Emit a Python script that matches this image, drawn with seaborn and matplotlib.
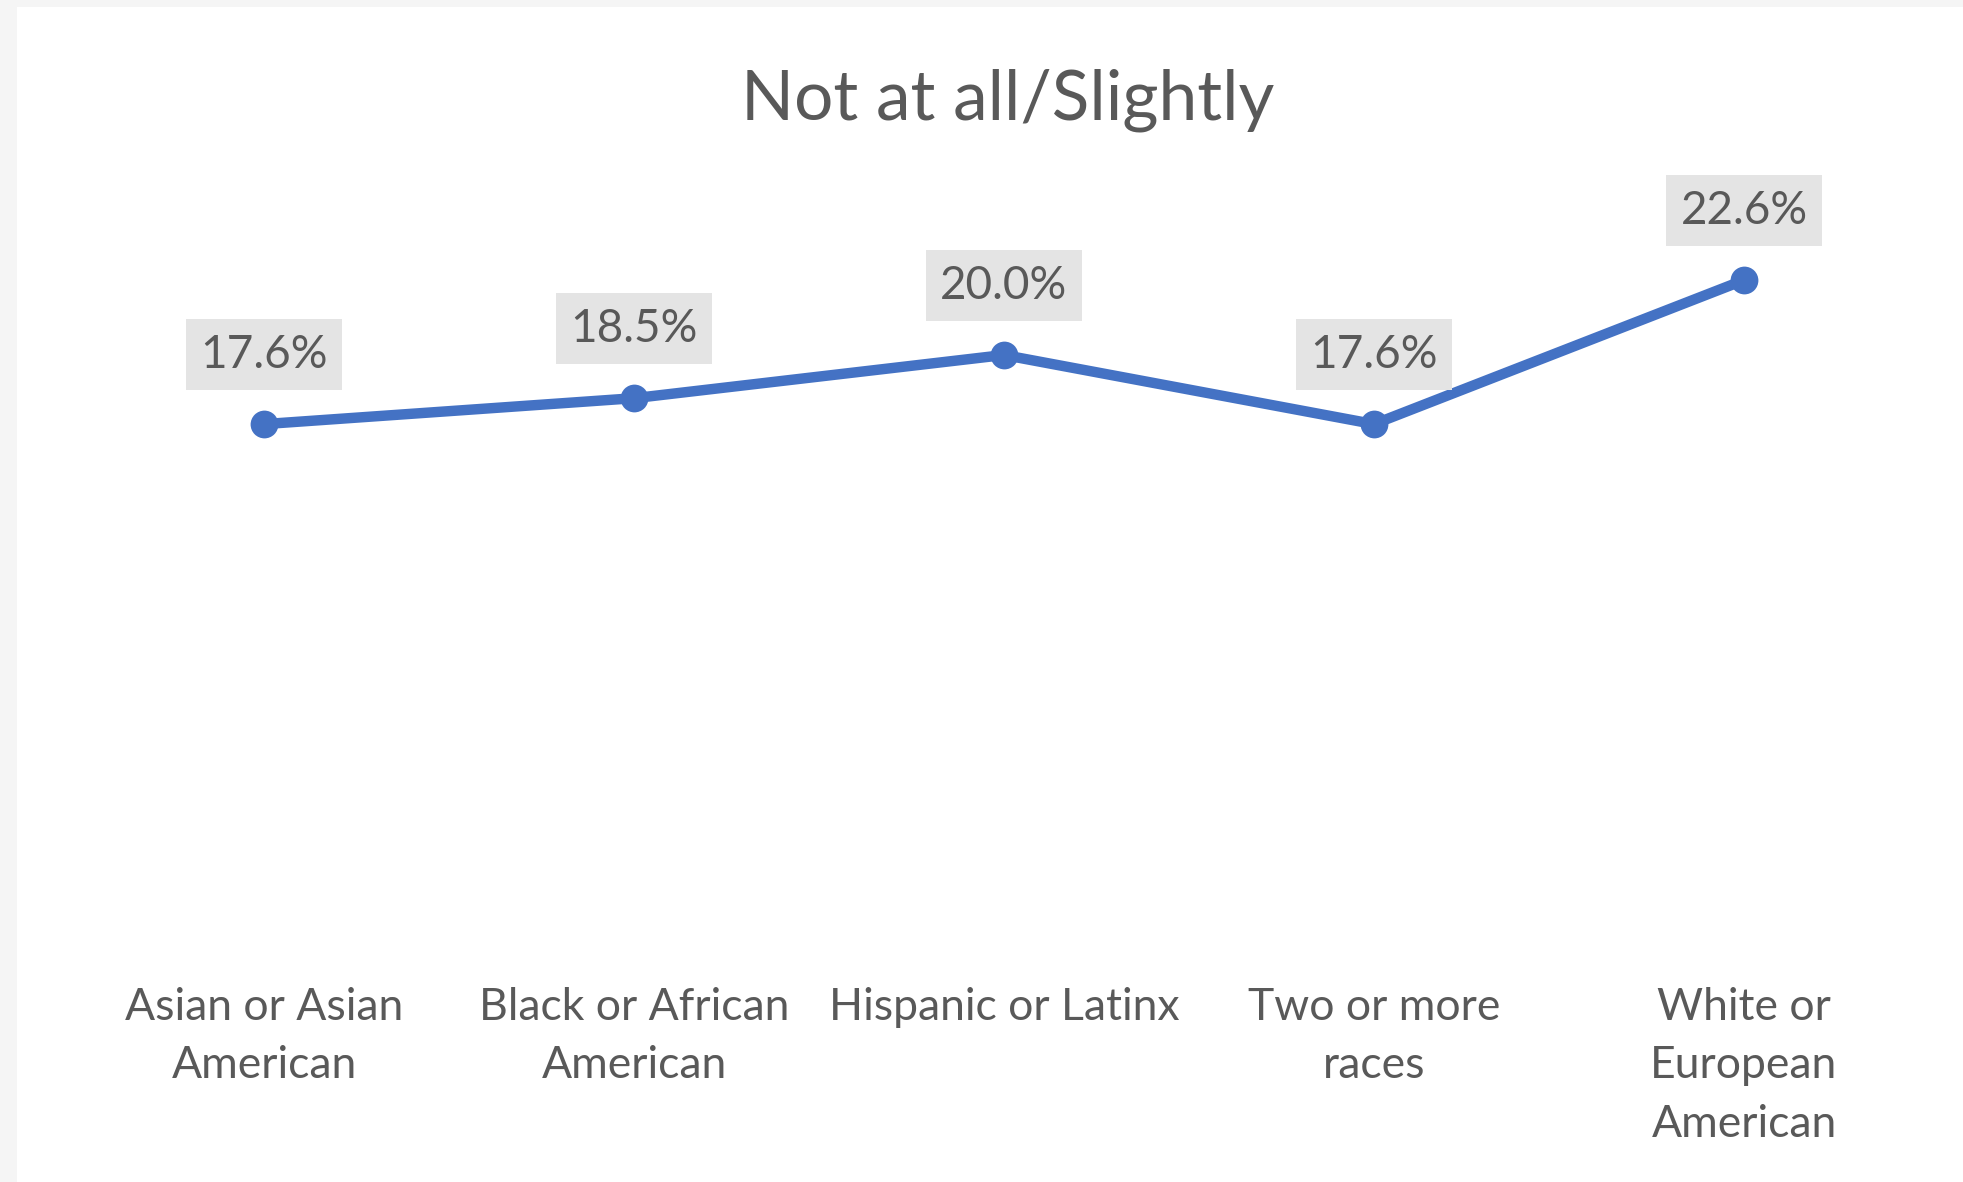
import matplotlib
matplotlib.use("Agg")
import matplotlib.pyplot as plt
from matplotlib.patches import Rectangle
import seaborn as sns

CATEGORIES = [
    "Asian or Asian\nAmerican",
    "Black or African\nAmerican",
    "Hispanic or Latinx",
    "Two or more\nraces",
    "White or\nEuropean\nAmerican",
]
VALUES = [17.6, 18.5, 20.0, 17.6, 22.6]
TITLE = "Not at all/Slightly"

LINE_COLOR = "#4472C4"
TEXT_COLOR = "#595959"

sns.set_theme(style="white")
plt.rcParams["font.family"] = ["Lato", "DejaVu Sans"]

fig = plt.figure(figsize=(19.63, 11.82), dpi=100, facecolor="#f5f5f5")
fig.patches.append(Rectangle((17 / 1963, 0), 1, 1 - 7 / 1182, transform=fig.transFigure,
                             facecolor="white", edgecolor="none", zorder=-10))
ax = fig.add_axes([79 / 1963, 251 / 1182, 1850 / 1963, 720 / 1182])
ax.set_facecolor("none")

sns.lineplot(x=list(range(len(VALUES))), y=VALUES, ax=ax, color=LINE_COLOR, linewidth=7.5,
             marker="o", markersize=20, markeredgewidth=0, sort=False)

for i, v in enumerate(VALUES):
    ax.annotate(f"{v:.1f}%", (i, v), xytext=(0, 50), textcoords="offset points",
                ha="center", va="center", fontsize=33, color=TEXT_COLOR,
                bbox=dict(boxstyle="square,pad=0.32", facecolor="#e4e4e4", edgecolor="none"))

ax.set_xlim(-0.5, len(VALUES) - 0.5)
ax.set_ylim(0, 25)
ax.set_xticks(range(len(CATEGORIES)))
ax.set_xticklabels(CATEGORIES, fontsize=32, color=TEXT_COLOR, linespacing=1.54, va="top")
ax.tick_params(axis="x", length=0, pad=40)
ax.set_yticks([])
ax.set_xlabel("")
ax.set_ylabel("")
sns.despine(ax=ax, left=True, bottom=True)

fig.text(1008 / 1963, 1 - 100 / 1182, TITLE, ha="center", va="center", fontsize=50, color=TEXT_COLOR)

fig.savefig("out.png", dpi=100, facecolor=fig.get_facecolor())
